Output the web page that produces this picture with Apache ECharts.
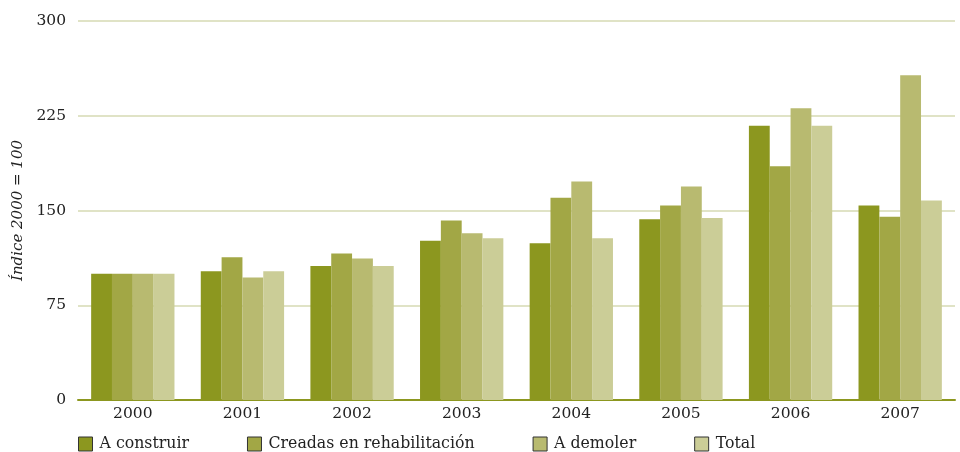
<!DOCTYPE html>
<html>
<head>
<meta charset="utf-8">
<script src="https://cdn.jsdelivr.net/npm/echarts@6/dist/echarts.min.js"></script>
<style>
  html, body { margin: 0; padding: 0; background: #fff; }
  #chart { width: 960px; height: 452px; }
</style>
</head>
<body>
<div id="chart"></div>
<script>
// datos (índice 2000 = 100)
var years = ['2000', '2001', '2002', '2003', '2004', '2005', '2006', '2007'];
var aConstruir = [100, 102, 106, 126, 124, 143, 217, 154];
var creadasRehab = [100, 113, 116, 142, 160, 154, 185, 145];
var aDemoler = [100, 97, 112, 132, 173, 169, 231, 257];
var total = [100, 102, 106, 128, 128, 144, 217, 158];
var yTicks = [0, 75, 150, 225, 300];

var chart = echarts.init(document.getElementById('chart'));
var font = 'DejaVu Serif';

function bar(name, data, color) {
    return {
        type: 'bar',
        name: name,
        data: data,
        barGap: '0%',
        barCategoryGap: '24%',
        itemStyle: { color: color },
        emphasis: { disabled: true }
    };
}

var option = {
    animation: false,
    grid: {
        left: 78,
        right: 5,
        top: 21,
        bottom: 52
    },
    legend: {
        left: 73,
        top: 431,
        itemWidth: 14,
        itemHeight: 14,
        itemGap: 58,
        icon: 'rect',
        itemStyle: { borderColor: '#333', borderWidth: 1 },
        textStyle: { fontFamily: font, fontSize: 15.75, color: '#222', padding: [0, 0, 0, 2] },
        data: ['A construir', 'Creadas en rehabilitación', 'A demoler', 'Total']
    },
    xAxis: {
        type: 'category',
        data: years,
        axisLine: { lineStyle: { color: '#8c971f', width: 2 } },
        axisTick: { show: false },
        axisLabel: { fontFamily: font, fontSize: 15.5, color: '#222', margin: 6 }
    },
    yAxis: {
        type: 'value',
        min: yTicks[0],
        max: yTicks[yTicks.length - 1],
        interval: 75,
        name: 'Índice 2000 = 100',
        nameLocation: 'middle',
        nameGap: 50,
        nameTextStyle: { fontFamily: font, fontSize: 15, fontStyle: 'italic', color: '#222' },
        axisLine: { show: false },
        axisTick: { show: false },
        splitLine: { lineStyle: { color: '#e0e3c6', width: 2 } },
        axisLabel: { fontFamily: font, fontSize: 15.5, color: '#222', margin: 12 }
    },
    series: [
        bar('A construir', aConstruir, '#8c971f'),
        bar('Creadas en rehabilitación', creadasRehab, '#a2a745'),
        bar('A demoler', aDemoler, '#b8ba70'),
        bar('Total', total, '#cbcd97')
    ]
};
chart.setOption(option);
</script>
</body>
</html>
